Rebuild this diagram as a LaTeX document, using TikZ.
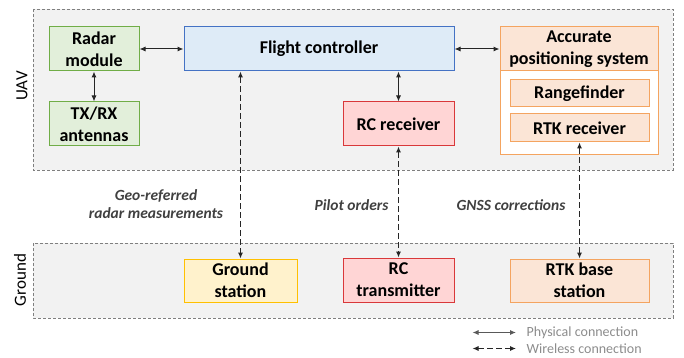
\documentclass[tikz,border=0pt]{standalone}
\usepackage{fontspec}
\setmainfont{Carlito}
\usetikzlibrary{arrows.meta}
\definecolor{grpfill}{HTML}{F2F2F2}
\definecolor{grpdraw}{HTML}{7F7F7F}
\definecolor{grfill}{HTML}{E2EFDA}
\definecolor{grdraw}{HTML}{70AD47}
\definecolor{blfill}{HTML}{DEEBF7}
\definecolor{bldraw}{HTML}{4472C4}
\definecolor{rdfill}{HTML}{FFD5D5}
\definecolor{rddraw}{HTML}{D9383A}
\definecolor{orfill}{HTML}{FBE5D6}
\definecolor{ordraw}{HTML}{F4A460}
\definecolor{yefill}{HTML}{FFF2CC}
\definecolor{yedraw}{HTML}{FFC000}
\definecolor{lblcol}{HTML}{404040}
\definecolor{leggray}{HTML}{8C8C8C}
\definecolor{arrcol}{HTML}{262626}
\definecolor{legline}{HTML}{595959}
\tikzset{
  box/.style={draw, line width=1pt, inner sep=0pt, align=center,
    font=\fontsize{18}{22}\selectfont\bfseries},
  grp/.style={draw=grpdraw, fill=grpfill, dash pattern=on 3pt off 2pt, line width=0.9pt},
  phys/.style={arrcol, line width=1pt, {Latex[length=6pt,width=5pt]}-{Latex[length=6pt,width=5pt]}},
  wless/.style={phys, dash pattern=on 6pt off 3pt},
  lbl/.style={lblcol, font=\fontsize{15.5}{18}\selectfont\bfseries\itshape, align=center},
  side/.style={rotate=90, font=\fontsize{17}{20}\selectfont, text=black},
  leg/.style={leggray, font=\fontsize{14}{16}\selectfont, anchor=west, inner sep=0pt}
}
\begin{document}
\begin{tikzpicture}[x=1pt,y=-1pt]
\useasboundingbox (0,0) rectangle (684,358);
% groups
\draw[grp] (33,9) rectangle (673,170);
\draw[grp] (33,243) rectangle (673,318);
\node[side] (uav) at (22,86) {UAV};
\node[side] (gnd) at (20,280) {Ground};
% UAV nodes
\node[box, draw=grdraw, fill=grfill, minimum width=90pt, minimum height=44pt] (radar) at (94,49) {Radar\\module};
\node[box, draw=grdraw, fill=grfill, minimum width=90pt, minimum height=44pt] (txrx) at (94,124) {TX/RX\\antennas};
\node[box, draw=bldraw, fill=blfill, minimum width=270pt, minimum height=44pt] (fc) at (319,49) {Flight controller};
\node[box, draw=ordraw, fill=white, minimum width=158pt, minimum height=127pt] (apsout) at (579,90.5) {};
\node[box, draw=ordraw, fill=orfill, minimum width=158pt, minimum height=44pt] (aps) at (579,49) {Accurate\\positioning system};
\node[box, draw=ordraw, fill=orfill, minimum width=139pt, minimum height=27pt] (range) at (579.5,93.5) {Rangefinder};
\node[box, draw=ordraw, fill=orfill, minimum width=139pt, minimum height=28pt] (rtkr) at (579.5,128) {RTK receiver};
\node[box, draw=rddraw, fill=rdfill, minimum width=111pt, minimum height=44pt] (rcr) at (398.5,124) {RC receiver};
% Ground nodes
\node[box, draw=yedraw, fill=yefill, minimum width=113pt, minimum height=43pt] (gs) at (240.5,280.5) {Ground\\station};
\node[box, draw=rddraw, fill=rdfill, minimum width=111pt, minimum height=44pt] (rct) at (398.5,280) {RC\\transmitter};
\node[box, draw=ordraw, fill=orfill, minimum width=139pt, minimum height=43pt] (rtkb) at (579.5,280.5) {RTK base\\station};
% physical connections
\draw[phys] (radar.east) -- (fc.west);
\draw[phys] (radar.south) -- (txrx.north);
\draw[phys] (fc.east) -- (aps.west);
\draw[phys] (rcr.north |- fc.south) -- (rcr.north);
% wireless connections
\draw[wless] (gs.north |- fc.south) -- (gs.north);
\draw[wless] (rcr.south) -- (rct.north);
\draw[wless] (rtkr.south) -- (rtkb.north);
% labels
\node[lbl] (lgeo) at (156,204) {Geo-referred\\radar measurements};
\node[lbl] (lpil) at (351.5,205) {Pilot orders};
\node[lbl] (lgnss) at (511,205) {GNSS corrections};
% legend
\coordinate (l1a) at (472.5,332.5);
\coordinate (l1b) at (516,332.5);
\coordinate (l2a) at (472.5,348.5);
\coordinate (l2b) at (516,348.5);
\draw[phys, draw=legline, fill=arrcol] (l1a) -- (l1b);
\draw[wless] (l2a) -- (l2b);
\node[leg] (t1) at (526.5,332.5) {Physical connection};
\node[leg] (t2) at (526.5,348.5) {Wireless connection};
\end{tikzpicture}
\end{document}
